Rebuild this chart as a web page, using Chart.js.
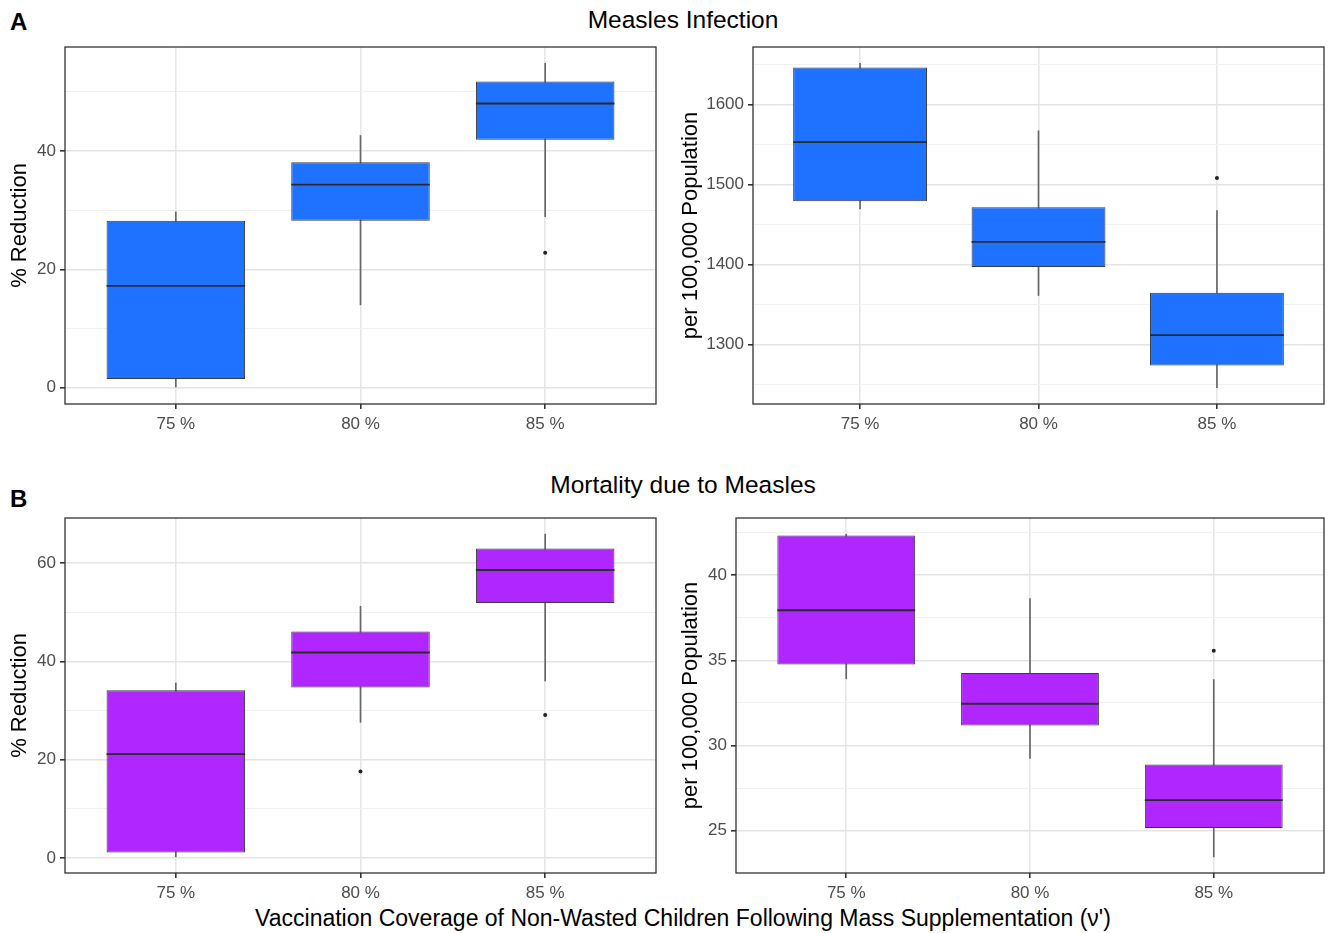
<!DOCTYPE html>
<html>
<head>
<meta charset="utf-8">
<script src="https://cdn.jsdelivr.net/npm/chart.js@4.4.1/dist/chart.umd.min.js"></script>
<style>
  html, body { margin: 0; padding: 0; background: #fff; }
  body { width: 1328px; height: 933px; position: relative; overflow: hidden;
         font-family: "Liberation Sans", Arial, Helvetica, sans-serif; }
  canvas { position: absolute; }
  .txt { position: absolute; white-space: nowrap; color: #000; line-height: 1; }
  .tag { font-weight: bold; font-size: 24px; }
  .head { font-size: 24.5px; transform: translateX(-50%); }
  .foot { font-size: 23px; transform: translateX(-50%); }
</style>
</head>
<body>
<div class="txt tag" style="left:10px; top:10px;">A</div>
<div class="txt head" style="left:683px; top:8px;">Measles Infection</div>
<div class="txt tag" style="left:10px; top:487px;">B</div>
<div class="txt head" style="left:683px; top:473px;">Mortality due to Measles</div>
<div class="txt foot" style="left:683px; top:907px;">Vaccination Coverage of Non-Wasted Children Following Mass Supplementation (ν')</div>

<canvas id="infPct" width="660" height="400" style="left:0px; top:40px;"></canvas>
<canvas id="infPop" width="668" height="400" style="left:660px; top:40px;"></canvas>
<canvas id="mortPct" width="660" height="410" style="left:0px; top:500px;"></canvas>
<canvas id="mortPop" width="668" height="410" style="left:660px; top:500px;"></canvas>

<script>
// Vaccination coverage groups
const categories = ['75 %', '80 %', '85 %'];
const positions = [1, 2, 3];

// Measles infection: % reduction (box-and-whisker summaries)
const infPctLow      = [0.0, 14.0, 28.9];
const infPctQ1       = [1.5, 28.2, 41.9];
const infPctMedian   = [17.2, 34.3, 48.0];
const infPctQ3       = [28.2, 38.1, 51.7];
const infPctHigh     = [29.7, 42.6, 54.8];
const infPctOutliers = [[], [], [22.8]];
const infPctTicks    = [0, 20, 40];
const infPctMinor    = [10, 30, 50];

// Measles infection: cases per 100,000 population
const infPopLow      = [1469.6, 1361.3, 1245.8];
const infPopQ1       = [1479.2, 1397.1, 1273.8];
const infPopMedian   = [1553.3, 1428.3, 1311.7];
const infPopQ3       = [1646.7, 1471.7, 1364.6];
const infPopHigh     = [1652.0, 1567.5, 1467.5];
const infPopOutliers = [[], [], [1508.3]];
const infPopTicks    = [1300, 1400, 1500, 1600];
const infPopMinor    = [1250, 1350, 1450, 1550, 1650];

// Measles mortality: % reduction
const mortPctLow      = [0.2, 27.6, 36.0];
const mortPctQ1       = [1.1, 34.7, 51.9];
const mortPctMedian   = [21.1, 41.8, 58.6];
const mortPctQ3       = [34.1, 46.1, 63.0];
const mortPctHigh     = [35.6, 51.2, 65.9];
const mortPctOutliers = [[], [17.6], [29.1]];
const mortPctTicks    = [0, 20, 40, 60];
const mortPctMinor    = [10, 30, 50];

// Measles mortality: deaths per 100,000 population
const mortPopLow      = [33.91, 29.24, 23.46];
const mortPopQ1       = [34.75, 31.17, 25.16];
const mortPopMedian   = [37.94, 32.45, 26.79];
const mortPopQ3       = [42.33, 34.26, 28.89];
const mortPopHigh     = [42.41, 38.62, 33.87];
const mortPopOutliers = [[], [], [35.56]];
const mortPopTicks    = [25, 30, 35, 40];
const mortPopMinor    = [22.5, 27.5, 32.5, 37.5, 42.5];

const BLUE = '#1F72FF';
const PURPLE = '#B026FF';
const INK = '#333333';

// y range: data extent padded by 5% on each side
function axisRange(spec) {
  const all = [...spec.low, ...spec.high, ...spec.outliers.flat()];
  const lo = Math.min(...all), hi = Math.max(...all);
  const pad = (hi - lo) * 0.05;
  return [lo - pad, hi + pad];
}

function makePanel(id, spec) {
  const [yMin, yMax] = axisRange(spec);
  const majors = spec.ticks;
  const gridValues = [...spec.ticks, ...spec.minor]
    .filter(v => v > yMin && v < yMax).sort((a, b) => a - b);
  const isMajor = c => c.tick && majors.includes(c.tick.value);

  const boxData = positions.map((x, i) => ({ x, y: [spec.q1[i], spec.q3[i]] }));
  const whiskerData = positions.map((x, i) => ({ x, y: [spec.low[i], spec.high[i]] }));
  const outlierData = [];
  spec.outliers.forEach((vals, i) => vals.forEach(v => outlierData.push({ x: positions[i], y: v })));

  // median line across each box
  const medians = {
    id: 'medians',
    afterDatasetsDraw(chart) {
      const meta = chart.getDatasetMeta(0);
      const ys = chart.scales.y;
      const ctx = chart.ctx;
      ctx.save();
      ctx.strokeStyle = '#2a2a2a';
      ctx.lineWidth = 1.8;
      meta.data.forEach((bar, i) => {
        const py = ys.getPixelForValue(spec.median[i]);
        ctx.beginPath();
        ctx.moveTo(bar.x - bar.width / 2, py);
        ctx.lineTo(bar.x + bar.width / 2, py);
        ctx.stroke();
      });
      ctx.restore();
    }
  };
  // panel border on all four sides
  const frame = {
    id: 'frame',
    afterDraw(chart) {
      const { left, top, right, bottom } = chart.chartArea;
      const ctx = chart.ctx;
      ctx.save();
      ctx.strokeStyle = INK;
      ctx.lineWidth = 1.3;
      ctx.strokeRect(left, top, right - left, bottom - top);
      ctx.restore();
    }
  };

  return new Chart(document.getElementById(id), {
    type: 'bar',
    data: {
      datasets: [
        {
          label: 'IQR', data: boxData,
          backgroundColor: spec.color, borderColor: '#3a3a3a', borderWidth: 1,
          borderSkipped: false, grouped: false,
          categoryPercentage: 1, barPercentage: 0.75
        },
        {
          label: 'range', data: whiskerData,
          backgroundColor: '#666666', borderWidth: 0,
          grouped: false, barThickness: 1
        },
        {
          type: 'scatter', label: 'outliers', data: outlierData,
          pointRadius: 2, pointBackgroundColor: '#222', pointBorderWidth: 0,
          order: -1
        }
      ]
    },
    options: {
      responsive: false,
      animation: false,
      events: [],
      layout: { padding: { top: spec.padTop, right: spec.padRight, left: 0, bottom: 0 } },
      plugins: { legend: { display: false }, tooltip: { enabled: false } },
      scales: {
        x: {
          type: 'linear', min: 0.4, max: 3.6, offset: false,
          afterBuildTicks: s => { s.ticks = positions.map(v => ({ value: v })); },
          afterFit: s => { s.height = spec.xHeight; s.paddingLeft = 0; s.paddingRight = 0; },
          ticks: {
            autoSkip: false, maxRotation: 0, padding: 5,
            color: '#4d4d4d', font: { size: 17, family: 'Liberation Sans' },
            callback: v => categories[positions.indexOf(v)] ?? ''
          },
          grid: { offset: false, color: '#e6e6e6', lineWidth: 1.6, tickColor: INK, tickLength: 5 },
          border: { display: false }
        },
        y: {
          min: yMin, max: yMax,
          afterBuildTicks: s => { s.ticks = gridValues.map(v => ({ value: v })); },
          afterFit: s => { s.width = spec.yWidth; s.paddingTop = 0; s.paddingBottom = 0; },
          ticks: {
            autoSkip: false, padding: 4,
            color: '#4d4d4d', font: { size: 17, family: 'Liberation Sans' },
            callback: v => majors.includes(v) ? String(v) : ''
          },
          grid: {
            color: c => isMajor(c) ? '#e4e4e4' : '#f0f0f0',
            lineWidth: c => isMajor(c) ? 1.6 : 1,
            tickColor: c => isMajor(c) ? INK : 'rgba(0,0,0,0)',
            tickLength: 5
          },
          border: { display: false },
          title: {
            display: true, text: spec.yTitle, color: '#000',
            font: { size: 22, family: 'Liberation Sans' },
            padding: { top: spec.titlePad, bottom: 0 }
          }
        }
      }
    },
    plugins: [medians, frame]
  });
}

makePanel('infPct', {
  low: infPctLow, q1: infPctQ1, median: infPctMedian, q3: infPctQ3, high: infPctHigh,
  outliers: infPctOutliers, ticks: infPctTicks, minor: infPctMinor,
  color: BLUE, yTitle: '% Reduction',
  padTop: 7, padRight: 3, yWidth: 65, xHeight: 36, titlePad: 7
});
makePanel('infPop', {
  low: infPopLow, q1: infPopQ1, median: infPopMedian, q3: infPopQ3, high: infPopHigh,
  outliers: infPopOutliers, ticks: infPopTicks, minor: infPopMinor,
  color: BLUE, yTitle: 'per 100,000 Population',
  padTop: 7, padRight: 2, yWidth: 93, xHeight: 36, titlePad: 18
});
makePanel('mortPct', {
  low: mortPctLow, q1: mortPctQ1, median: mortPctMedian, q3: mortPctQ3, high: mortPctHigh,
  outliers: mortPctOutliers, ticks: mortPctTicks, minor: mortPctMinor,
  color: PURPLE, yTitle: '% Reduction',
  padTop: 18, padRight: 3, yWidth: 65, xHeight: 37, titlePad: 7
});
makePanel('mortPop', {
  low: mortPopLow, q1: mortPopQ1, median: mortPopMedian, q3: mortPopQ3, high: mortPopHigh,
  outliers: mortPopOutliers, ticks: mortPopTicks, minor: mortPopMinor,
  color: PURPLE, yTitle: 'per 100,000 Population',
  padTop: 18, padRight: 1, yWidth: 76, xHeight: 37, titlePad: 18
});
</script>
</body>
</html>
